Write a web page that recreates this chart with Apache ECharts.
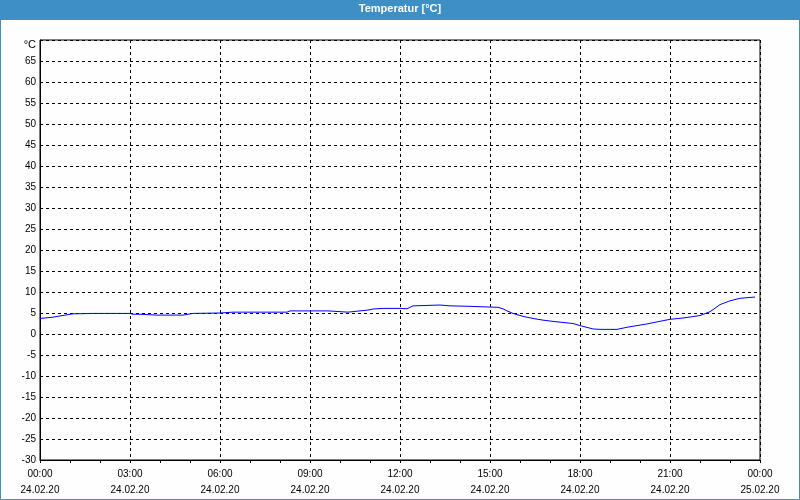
<!DOCTYPE html>
<html>
<head>
<meta charset="utf-8">
<script src="https://cdn.jsdelivr.net/npm/echarts@6/dist/echarts.min.js"></script>
<style>html,body{margin:0;padding:0;background:#fdfefd}#c{width:800px;height:500px}</style>
</head>
<body>
<div id="c"></div>
<script>
// Data (time of day on 24.02.20, hours:minutes) and temperature in °C
const times = ['00:00','00:26','00:40','01:06','01:46','03:00','03:05','03:20','03:54','04:46','05:06','06:00','06:26','08:14','08:20','09:36','09:40','10:16','10:20','10:56','11:06','11:26','12:00','12:14','12:26','13:20','13:40','14:16','14:20','15:16','15:26','15:34','15:46','16:06','16:26','16:46','17:06','17:30','17:46','18:00','18:26','18:40','19:14','19:34','20:14','21:00','21:26','22:00','22:20','22:40','23:00','23:20','23:50'];
const temps = [3.7,4.0,4.3,4.8,4.9,4.9,4.7,4.7,4.5,4.5,4.9,5.0,5.2,5.2,5.5,5.5,5.2,5.2,5.5,5.7,5.95,6.1,6.1,6.0,6.7,6.9,6.7,6.6,6.35,6.35,6.0,5.5,4.9,4.2,3.7,3.3,3.0,2.7,2.5,2.0,1.2,1.1,1.1,1.6,2.4,3.5,3.8,4.4,5.3,7.0,7.9,8.5,8.8];
const xTickHours = [0,3,6,9,12,15,18,21,24];
const xTickLabels = ['00:00\n24.02.20','03:00\n24.02.20','06:00\n24.02.20','09:00\n24.02.20','12:00\n24.02.20','15:00\n24.02.20','18:00\n24.02.20','21:00\n24.02.20','00:00\n25.02.20'];
const yMin = -30, yMax = 70, yStep = 5;
const unitLabel = '°C';
const titleText = 'Temperatur [°C]';

const toHours = s => { const [h,m] = s.split(':').map(Number); return h + m/60; };
const seriesData = times.map((t,i) => [toHours(t), temps[i]]);

const font = 'Liberation Sans, Arial, sans-serif';
const chart = echarts.init(document.getElementById('c'), null, {renderer:'canvas'});
chart.setOption({
  animation: false,
  backgroundColor: '#fdfefd',
  graphic: [
    {type:'rect', shape:{x:0.5,y:0.5,width:799,height:499}, style:{fill:'none', stroke:'#3d8fc6', lineWidth:1}, z:0},
    {type:'rect', shape:{x:0,y:0,width:800,height:20}, style:{fill:'#3d8fc6'}, z:1},
    {type:'text', x:400, y:9, style:{text:titleText, fill:'#ffffff', font:'bold 11px ' + font, align:'center', verticalAlign:'middle'}, z:2}
  ],
  grid: {left:40, right:40, top:40, bottom:40, show:true, borderColor:'#000', borderWidth:1, backgroundColor:'transparent'},
  xAxis: {
    type:'value', min:0, max:24, interval:3,
    axisLine:{show:true, onZero:false, lineStyle:{color:'#000', width:1}},
    axisTick:{show:true, length:3, lineStyle:{color:'#000'}},
    minorTick:{show:true, splitNumber:3, length:3, lineStyle:{color:'#000'}},
    splitLine:{show:true, lineStyle:{color:'#000', type:[3,3], width:1}},
    axisLabel:{
      color:'#000', fontFamily:font, fontSize:10, lineHeight:16, margin:6,
      formatter: v => { const i = xTickHours.indexOf(v); return i >= 0 ? xTickLabels[i] : ''; }
    }
  },
  yAxis: {
    type:'value', min:yMin, max:yMax, interval:yStep,
    axisLine:{show:true, onZero:false, lineStyle:{color:'#000', width:1}},
    axisTick:{show:false},
    splitLine:{show:true, lineStyle:{color:'#000', type:[3,3], width:1}},
    axisLabel:{color:'#000', fontFamily:font, fontSize:10, margin:4,
      formatter: v => v === yMax ? '{u|' + unitLabel + '}' : String(v),
      rich:{u:{color:'#000', fontFamily:font, fontSize:11, padding:[9,0,0,0]}}}
  },
  series: [{
    type:'line', data:seriesData, showSymbol:false, symbol:'none', smooth:false,
    lineStyle:{color:'#0000ff', width:1}, z:5
  }]
});
</script>
</body>
</html>
